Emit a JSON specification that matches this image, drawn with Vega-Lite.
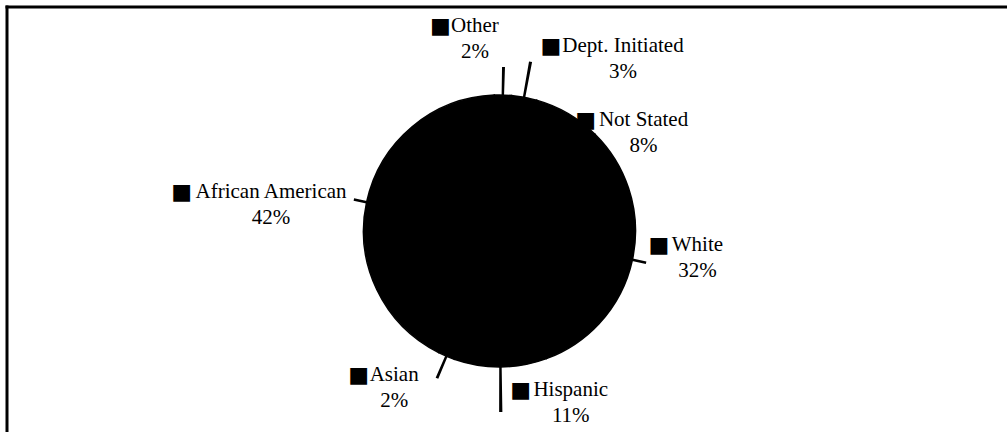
{
  "$schema": "https://vega.github.io/schema/vega-lite/v6.json",
  "autosize": {"type": "none"},
  "padding": {"left": 6.5, "top": 6.5, "right": 0, "bottom": 0},
  "width": 1000.5,
  "height": 425.5,
  "background": "white",
  "config": {"view": {"stroke": null}},
  "data": {
    "values": [
      {"category": "Dept. Initiated", "value": 3, "slice": 1},
      {"category": "Not Stated", "value": 8, "slice": 2},
      {"category": "White", "value": 32, "slice": 3},
      {"category": "Hispanic", "value": 11, "slice": 4},
      {"category": "Asian", "value": 2, "slice": 5},
      {"category": "African American", "value": 42, "slice": 6},
      {"category": "Other", "value": 2, "slice": 7}
    ]
  },
  "layer": [
    {
      "mark": {"type": "rule", "opacity": 0},
      "encoding": {
        "x": {"datum": 0, "type": "quantitative", "axis": {"orient": "top", "title": null, "labels": false, "ticks": false, "grid": false, "domainColor": "black", "domainWidth": 3, "domainCap": "square"}},
        "y": {"datum": 0, "type": "quantitative", "axis": {"orient": "left", "title": null, "labels": false, "ticks": false, "grid": false, "domainColor": "black", "domainWidth": 3, "domainCap": "square"}}
      }
    },
    {
      "mark": {"type": "arc", "radius": 136, "fill": "black", "stroke": "black", "strokeWidth": 1.5, "xOffset": -7.25, "yOffset": 11.75},
      "encoding": {
        "theta": {"field": "value", "type": "quantitative", "stack": true, "scale": {"range": [0.0873, 6.3705]}},
        "order": {"field": "slice", "type": "quantitative"}
      }
    },
    {
      "transform": [
        {"stack": "value", "groupby": [], "sort": [{"field": "slice", "order": "ascending"}], "as": ["v0", "v1"]}
      ],
      "mark": {
        "type": "arc",
        "radius2": 136,
        "radius": {"expr": "136 + [36, 0, 14, 45, 24, 13, 28][datum.slice - 1]"},
        "thetaOffset": {"expr": "(datum.v1 - datum.v0) * PI / 100 - 0.009"},
        "theta2Offset": {"expr": "-(datum.v1 - datum.v0) * PI / 100 + 0.009"},
        "fill": "black",
        "xOffset": -7.25,
        "yOffset": 11.75
      },
      "encoding": {
        "theta": {"field": "v0", "type": "quantitative", "scale": {"range": [0.0873, 6.3705]}},
        "theta2": {"field": "v1"},
        "opacity": {"condition": {"test": "datum.slice === 2", "value": 0}, "value": 1}
      }
    },
    {
      "mark": {
        "type": "text",
        "radius": 180,
        "font": "Liberation Serif",
        "fontSize": 21,
        "lineHeight": 26,
        "align": "center",
        "baseline": "middle",
        "fill": "black",
        "text": {"expr": "[datum.category, datum.value + '%']"},
        "xOffset": -7.25,
        "yOffset": 11.75,
        "dx": {"expr": "[91, 53.5, 22, 70, -35, -52.5, -29][datum.slice - 1]"},
        "dy": {"expr": "[-8, 45, -24.5, -21, -22, -1, -25][datum.slice - 1]"}
      },
      "encoding": {
        "theta": {"field": "value", "type": "quantitative", "stack": true, "scale": {"range": [0.0873, 6.3705]}},
        "order": {"field": "slice", "type": "quantitative"}
      }
    },
    {
      "mark": {
        "type": "text",
        "radius": 180,
        "font": "DejaVu Sans",
        "fontSize": 22,
        "align": "center",
        "baseline": "middle",
        "fill": "black",
        "text": "■",
        "xOffset": -7.25,
        "yOffset": 11.75,
        "dx": {"expr": "[19, -4.5, -16.5, 20, -70.5, -142, -63.5][datum.slice - 1]"},
        "dy": {"expr": "[-8, 45, -24.5, -21, -22, -1, -25][datum.slice - 1]"}
      },
      "encoding": {
        "theta": {"field": "value", "type": "quantitative", "stack": true, "scale": {"range": [0.0873, 6.3705]}},
        "order": {"field": "slice", "type": "quantitative"}
      }
    }
  ]
}
